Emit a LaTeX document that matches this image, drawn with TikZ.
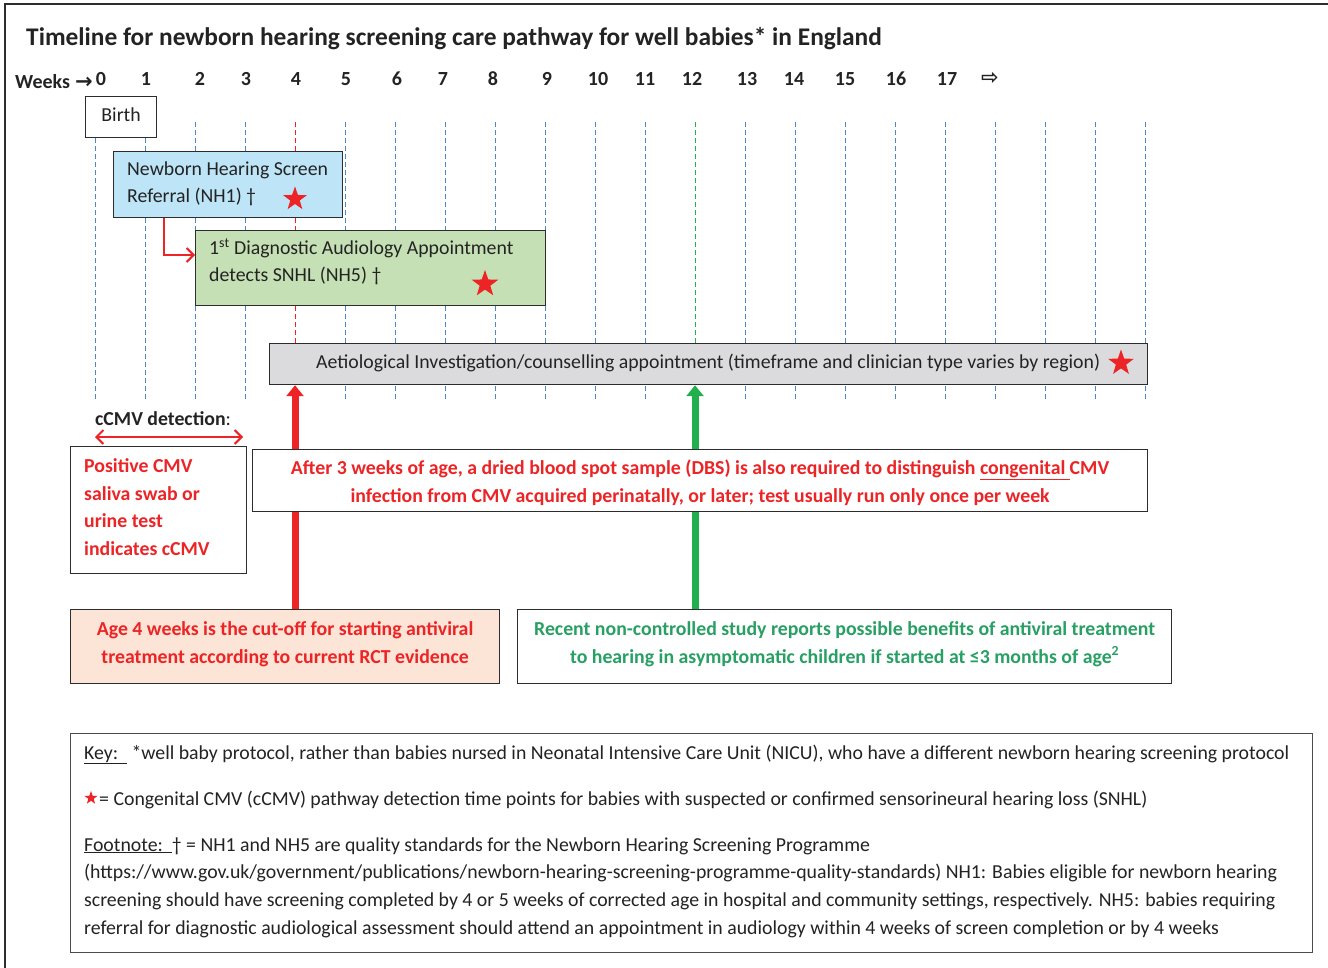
\documentclass[tikz,border=0pt]{standalone}
\usepackage{fontspec}
\setmainfont{Carlito}
\newfontfamily\dejavu{DejaVu Sans}
\usetikzlibrary{arrows.meta,shapes.geometric,calc}
\definecolor{cred}{RGB}{237,36,38}
\definecolor{cgreen}{RGB}{34,176,78}
\definecolor{gtext}{RGB}{40,160,100}
\definecolor{dblue}{RGB}{74,134,200}
\definecolor{txtc}{RGB}{35,35,35}
\definecolor{boxc}{RGB}{45,45,45}
\definecolor{bluefill}{RGB}{190,229,247}
\definecolor{greenfill}{RGB}{197,224,180}
\definecolor{greyfill}{RGB}{219,219,221}
\definecolor{orangefill}{RGB}{252,228,214}
\newcommand\fstitle{\fontsize{25.4}{30}\selectfont\bfseries}
\newcommand\fsweek{\fontsize{20}{24}\selectfont\bfseries}
\newcommand\fsbody{\fontsize{19.8}{24}\selectfont}
\newcommand\fsred{\fontsize{19.8}{24}\selectfont\bfseries}
\newcommand\fskey{\fontsize{19.8}{24}\selectfont}
\begin{document}
\begin{tikzpicture}[x=1pt,y=-1pt,
  box/.style={draw=boxc, line width=1.2pt, inner sep=0pt, anchor=north west},
  txt/.style={inner sep=0pt, anchor=base west, text=txtc},
  ctxt/.style={inner sep=0pt, anchor=base, text=txtc},
  wk/.style={inner sep=0pt, anchor=base, text=txtc, font=\fsweek},
  grid/.style={dblue, line width=0.9pt, dash pattern=on 5pt off 3pt},
  redstar/.style={star, star points=5, star point ratio=2.5, fill=cred, draw=none, inner sep=0pt, minimum size=#1},
  bigarrow/.style={line width=7pt, -{Triangle[length=11pt,width=17pt]}},
  thinred/.style={cred, line width=2pt}
]
\useasboundingbox (0,0) rectangle (1328,968);
% outer frame
\draw[boxc, line width=1.3pt] (5,968) -- (5,4) -- (1328,4);

% title
\node[txt, font=\fstitle] (title) at (26,46) {Timeline for newborn hearing screening care pathway for well babies* in England};

% week header
\node[txt, font=\fsweek] (weeks) at (15,89) {Weeks};
\node[txt, font=\dejavu\bfseries\fontsize{21}{24}\selectfont] (warr) at (75,89) {→};
\foreach \n/\x in {0/101,1/146,2/200,3/246,4/296,5/346,6/397,7/443,8/493,9/547,10/598,11/645,12/692,13/747,14/794,15/845,16/896,17/947}
  \node[wk] (lab\n) at (\x,86) {\n};
\node[inner sep=0pt, anchor=base, text=txtc, font=\dejavu\bfseries\fontsize{21}{24}\selectfont] (more) at (990,85) {⇨};

% grid lines
\foreach \i in {0,...,21} {
  \coordinate (t\i) at (95+50*\i,122);
  \coordinate (b\i) at (95+50*\i,400);
}
\foreach \i in {0,1,2,3,5,6,7,8,9,10,11,13,14,15,16,17,18,19,20,21}
  \draw[grid] (t\i) -- (b\i);
\draw[grid, cred] (t4) -- (b4);
\draw[grid, cgreen] (t12) -- (b12);

% boxes
\node[box, fill=white, minimum width=71, minimum height=41] (birth) at (85,96) {};
\node[box, fill=bluefill, minimum width=229, minimum height=66] (nhs) at (113,151) {};
\node[box, fill=greenfill, minimum width=350, minimum height=75] (daa) at (195,230) {};
\node[box, fill=greyfill, minimum width=878, minimum height=41] (aet) at (269,343) {};
\node[box, fill=orangefill, minimum width=429, minimum height=74] (cut) at (70,609) {};
\node[box, fill=white, minimum width=654, minimum height=74] (rec) at (517,609) {};

% thick arrows
\draw[bigarrow, cred] (t4 |- cut.north) -- (t4 |- aet.south);
\draw[bigarrow, cgreen] (t12 |- rec.north) -- (t12 |- aet.south);

% boxes drawn over arrows
\node[box, fill=white, minimum width=176, minimum height=127] (pos) at (70,446) {};
\node[box, fill=white, minimum width=895, minimum height=62] (dbs) at (252,449) {};
\node[box, fill=white, minimum width=1242, minimum height=219, draw=boxc!85, line width=1pt] (key) at (70,733) {};

% elbow arrow
\coordinate (elb) at (164,255);
\draw[thinred, -{Straight Barb[length=7pt,width=14pt]}] (elb |- nhs.south) -- (elb) -- (elb -| daa.west);

% texts
\node[ctxt, font=\fsbody] (tbirth) at (birth.center |- 0,122) {Birth};
\node[txt, font=\fsbody] (tnhs1) at (127,176) {Newborn Hearing Screen};
\node[txt, font=\fsbody] (tnhs2) at (127,203) {Referral (NH1) †};
\node[redstar=25] (s1) at (295,199) {};
\node[txt, font=\fsbody] (tdaa1) at (209,255) {1\textsuperscript{st} Diagnostic Audiology Appointment};
\node[txt, font=\fsbody] (tdaa2) at (209,282) {detects SNHL (NH5) †};
\node[redstar=28] (s2) at (485,284) {};
\node[txt, font=\fsbody] (taet) at (316,368) {Aetiological Investigation/counselling appointment (timeframe and clinician type varies by region)};
\node[redstar=27] (s3) at (1121,363) {};

% cCMV detection
\node[txt, font=\fsred] (cdet) at (95,425) {cCMV detection\mdseries:};
\coordinate (dl) at (95,437);
\coordinate (dr) at (243,437);
\draw[thinred, {Straight Barb[length=7pt,width=14pt]}-{Straight Barb[length=7pt,width=14pt]}] (dl) -- (dr);

\foreach \t/\y in {Positive CMV/472, saliva swab or/500, urine test/527, indicates cCMV/555}
  \node[txt, font=\fsred, text=cred] at (84,\y) {\t};

\node[ctxt, font=\fsred, text=cred] (dbs1) at (dbs.center |- 0,474) {After 3 weeks of age, a dried blood spot sample (DBS) is also required to distinguish \underline{congenital }CMV};
\node[ctxt, font=\fsred, text=cred] (dbs2) at (dbs.center |- 0,502) {infection from CMV acquired perinatally, or later; test usually run only once per week};

\node[ctxt, font=\fsred, text=cred] (cut1) at (cut.center |- 0,635) {Age 4 weeks is the cut-off for starting antiviral};
\node[ctxt, font=\fsred, text=cred] (cut2) at (cut.center |- 0,663) {treatment according to current RCT evidence};

\node[ctxt, font=\fsred, text=gtext] (rec1) at (rec.center |- 0,635) {Recent non-controlled study reports possible benefits of antiviral treatment};
\node[ctxt, font=\fsred, text=gtext] (rec2) at (rec.center |- 0,663) {to hearing in asymptomatic children if started at ≤3 months of age\textsuperscript{2}};

% key
\node[txt, font=\fskey] (k1) at (84,759) {\underline{Key:\ \ } *well baby protocol, rather than babies nursed in Neonatal Intensive Care Unit (NICU), who have a different newborn hearing screening protocol};
\node[redstar=14] (s4) at (91,798) {};
\node[txt, font=\fskey] (k2) at (99,805) {= Congenital CMV (cCMV) pathway detection time points for babies with suspected or confirmed sensorineural hearing loss (SNHL)};
\node[txt, font=\fskey] (k3) at (84,851) {\underline{Footnote:\ \ }† = NH1 and NH5 are quality standards for the Newborn Hearing Screening Programme};
\node[txt, font=\fskey] (k4) at (84,878) {(https://www.gov.uk/government/publications/newborn-hearing-screening-programme-quality-standards) NH1: Babies eligible for newborn hearing};
\node[txt, font=\fskey] (k5) at (84,906) {screening should have screening completed by 4 or 5 weeks of corrected age in hospital and community settings, respectively. NH5: babies requiring};
\node[txt, font=\fskey] (k6) at (84,934) {referral for diagnostic audiological assessment should attend an appointment in audiology within 4 weeks of screen completion or by 4 weeks};
\end{tikzpicture}
\end{document}
